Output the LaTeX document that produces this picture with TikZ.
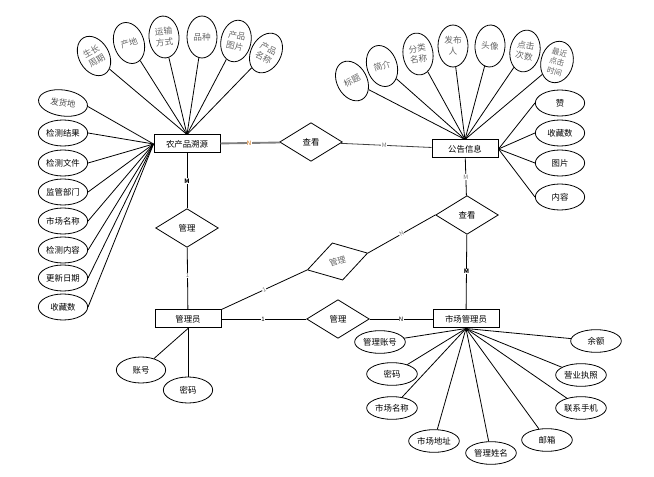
\documentclass[tikz,border=0pt]{standalone}
\usepackage{fontspec}
\setmainfont{Noto Sans CJK SC}
\usetikzlibrary{shapes.geometric}
\tikzset{
  ent/.style={draw, line width=0.75pt, minimum width=49.5pt, minimum height=13.5pt, inner sep=0pt, font=\fontsize{6.3}{7}\selectfont},
  attr/.style={draw, ellipse, line width=0.6pt, minimum width=37pt, minimum height=19.5pt, inner sep=0pt, font=\fontsize{6.3}{7}\selectfont},
  battr/.style={attr, minimum width=38pt, minimum height=17pt},
  tattr/.style={draw, ellipse, line width=0.6pt, minimum width=22.5pt, minimum height=31.5pt, inner sep=0pt, align=center, text=black!60, font=\fontsize{6.5}{8}\selectfont},
  rel/.style={draw, diamond, line width=0.6pt, minimum width=47pt, minimum height=29pt, inner sep=0pt, font=\fontsize{6.3}{7}\selectfont},
  conn/.style={line width=0.6pt},
  lbl/.style={fill=white, inner sep=0.3pt, font=\fontsize{4.5}{5}\selectfont},
}
\begin{document}
\begin{tikzpicture}[x=0.75pt,y=-0.75pt]
\useasboundingbox (0,0) rectangle (654,477);
% entities
\node[ent] (np) at (187,144) {农产品溯源};
\node[ent] (gg) at (465,149) {公告信息};
\node[ent] (gly) at (188,319) {管理员};
\node[ent] (sc) at (466,319) {市场管理员};
% relations
\node[rel] (ck1) at (311,142) {查看};
\node[rel] (gl1) at (187,228) {管理};
\node[rel] (ck2) at (467,215) {查看};
\node[rel, rotate=15.6, text=black!60] (gl2) at (337.5,261.5) {管理};
\node[rel] (gl3) at (338,319) {管理};
% product top attributes
\node[tattr, rotate=30] (p1) at (94,56) {生长\\周期};
\node[tattr, rotate=18] (p2) at (129,43) {产地};
\node[tattr, rotate=5] (p3) at (164,37) {运输\\方式};
\node[tattr] (p4) at (202,37) {品种};
\node[tattr, rotate=-12] (p5) at (236,41) {产品\\图片};
\node[tattr, rotate=-28] (p6) at (266,53) {产品\\名称};
% product left attributes
\node[attr, rotate=-8, text=black!70] (l1) at (63,103) {发货地};
\node[attr] (l2) at (63,133) {检测结果};
\node[attr] (l3) at (63,163) {检测文件};
\node[attr] (l4) at (63,192) {监管部门};
\node[attr] (l5) at (63,221) {市场名称};
\node[attr] (l6) at (63,250) {检测内容};
\node[attr] (l7) at (63,278) {更新日期};
\node[attr] (l8) at (63,307) {收藏数};
% notice top attributes
\node[tattr, rotate=28] (g1) at (352,81) {标题};
\node[tattr, rotate=18] (g2) at (382,66) {简介};
\node[tattr, rotate=8] (g3) at (418,54) {分类\\名称};
\node[tattr] (g4) at (453,46) {发布\\人};
\node[tattr, rotate=-3] (g5) at (490,46) {头像};
\node[tattr, rotate=-10] (g6) at (525,51) {点击\\次数};
\node[tattr, rotate=-15, minimum width=24pt, font=\fontsize{5.8}{7.3}\selectfont] (g7) at (557,62) {最近\\点击\\时间};
% notice right attributes
\node[attr] (r1) at (560,103) {赞};
\node[attr] (r2) at (560,133) {收藏数};
\node[attr] (r3) at (560,163) {图片};
\node[attr] (r4) at (560,197) {内容};
% admin attributes
\node[attr] (a1) at (141,370) {账号};
\node[attr] (a2) at (188,390) {密码};
% market admin attributes
\node[battr] (m1) at (380,342) {管理账号};
\node[battr] (m2) at (392,374) {密码};
\node[battr] (m3) at (392,408) {市场名称};
\node[battr] (m4) at (434,441) {市场地址};
\node[battr] (m5) at (491,453) {管理姓名};
\node[battr] (m6) at (547,440) {邮箱};
\node[battr] (m7) at (581,408) {联系手机};
\node[battr] (m8) at (581,375) {营业执照};
\node[battr] (m9) at (596,341) {余额};
% attribute connectors
\foreach \n in {p1,p2,p3,p4,p5,p6} \draw[conn] (\n) -- (np.north);
\foreach \n in {l1,l2,l3,l4,l5,l6,l7,l8} \draw[conn] (\n.east) -- (np.west);
\foreach \n in {g1,g2,g3,g4,g5,g6,g7} \draw[conn] (\n) -- (gg.north);
\foreach \n in {r1,r2,r3,r4} \draw[conn] (\n.west) -- (gg.east);
\foreach \n in {a1,a2} \draw[conn] (\n) -- (gly.south);
\foreach \n in {m1,m2,m3,m4,m5,m6,m7,m8,m9} \draw[conn] (\n) -- (sc.south);
% relation connectors
\draw[line width=1.4pt, black!50] (np) -- node[lbl, text=orange!80!black, pos=0.48]{N} (ck1);
\draw[conn, black!75] (ck1) -- node[lbl, text=black!55, pos=0.48]{M} (gg);
\draw[conn] (gg) -- node[lbl, text=black!55]{M} (ck2);
\draw[conn] (np) -- node[lbl, font=\bfseries\fontsize{4.5}{5}\selectfont]{M} (gl1);
\draw[conn] (gl1) -- node[lbl, text=black!55, pos=0.45]{1} (gly);
\draw[conn] (gly.north east) -- node[lbl, text=black!55, sloped]{1} (gl2.west);
\draw[conn] (gl2.east) -- node[lbl, text=black!55, sloped]{N} (ck2.west);
\draw[conn] (gly) -- node[lbl, pos=0.49]{1} (gl3);
\draw[conn] (gl3) -- node[lbl]{N} (sc);
\draw[conn] (ck2) -- node[lbl, font=\bfseries\fontsize{4.5}{5}\selectfont, pos=0.49]{M} (sc);
\end{tikzpicture}
\end{document}
